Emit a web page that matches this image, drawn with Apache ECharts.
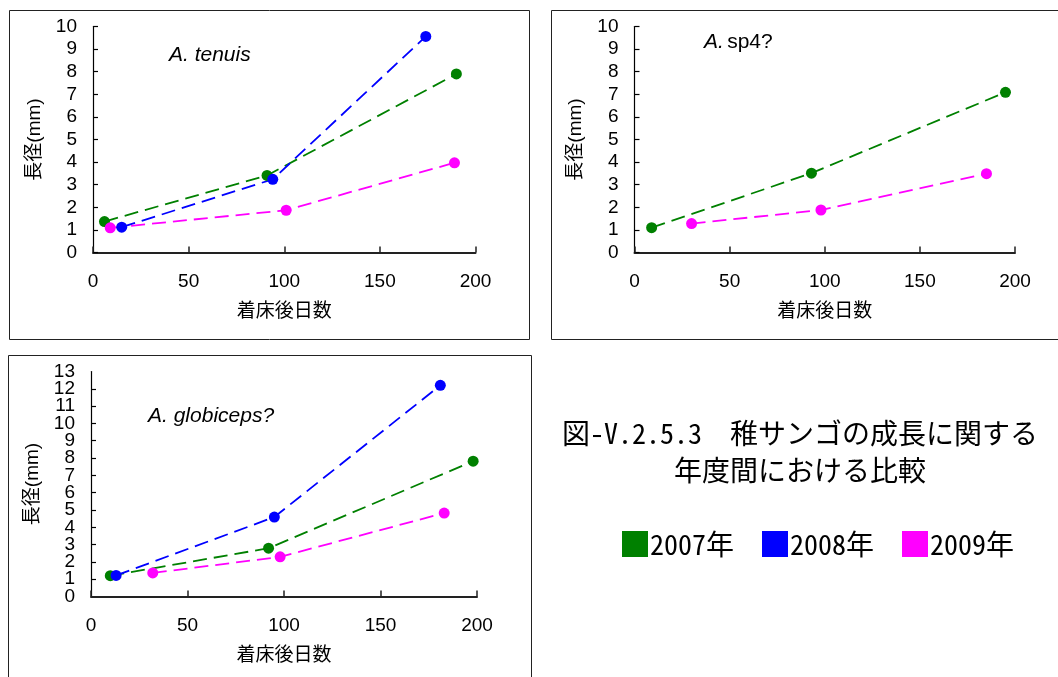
<!DOCTYPE html>
<html>
<head>
<meta charset="utf-8">
<script src="https://cdn.jsdelivr.net/npm/echarts@6/dist/echarts.min.js"></script>
<style>
html,body{margin:0;padding:0;background:#fff;}
#chart{width:1058px;height:677px;}
</style>
</head>
<body>
<div id="chart"></div>
<script>
// ---- Data ----
const yearNames = ['2007年', '2008年', '2009年'];
const yearColors = ['#008000', '#0000ff', '#ff00ff'];
const speciesLabels = ['A. tenuis', 'A. sp4?', 'A. globiceps?'];
const xTicks = [0, 50, 100, 150, 200];
const xAxisTitle = '着床後日数';
const yAxisTitle = '長径(mm)';
const yMaxs = [10, 10, 13];
const titleLine1 = '図-V.2.5.3　稚サンゴの成長に関する';
const titleLine2 = '年度間における比較';

// A. tenuis
const tenuis2007Days = [6, 91, 190];
const tenuis2007Size = [1.37, 3.41, 7.9];
const tenuis2008Days = [15, 94, 174];
const tenuis2008Size = [1.12, 3.24, 9.56];
const tenuis2009Days = [9, 101, 189];
const tenuis2009Size = [1.09, 1.87, 3.97];
// A. sp4?
const sp4_2007Days = [9, 93, 195];
const sp4_2007Size = [1.1, 3.51, 7.09];
const sp4_2009Days = [30, 98, 185];
const sp4_2009Size = [1.28, 1.88, 3.49];
// A. globiceps?
const glob2007Days = [10, 92, 198];
const glob2007Size = [1.2, 2.79, 7.82];
const glob2008Days = [13, 95, 181];
const glob2008Size = [1.22, 4.59, 12.2];
const glob2009Days = [32, 98, 183];
const glob2009Size = [1.36, 2.29, 4.82];

const zip = (a, b) => a.map((v, i) => [v, b[i]]);

const panels = [
  [[0, tenuis2007Days, tenuis2007Size], [1, tenuis2008Days, tenuis2008Size], [2, tenuis2009Days, tenuis2009Size]],
  [[0, sp4_2007Days, sp4_2007Size], [2, sp4_2009Days, sp4_2009Size]],
  [[0, glob2007Days, glob2007Size], [1, glob2008Days, glob2008Size], [2, glob2009Days, glob2009Size]]
];

// ---- Layout ----
const grids = [
  {left: 93, top: 26.5, width: 382.5, height: 226},
  {left: 634.5, top: 26.5, width: 380.5, height: 226},
  {left: 91, top: 371.5, width: 386, height: 225}
];
const boxes = [
  {x: 9.5, y: 10.5, width: 520, height: 329},
  {x: 551.5, y: 10.5, width: 520, height: 329},
  {x: 8.5, y: 355.5, width: 523, height: 340}
];
const labelPos = [[169, 57], [704, 44], [148, 418]];

const numFont = "'Liberation Sans', Arial, sans-serif";
const jpFont = "'Liberation Sans', 'Noto Sans CJK JP', sans-serif";
const monoJp = "'Noto Sans Mono CJK JP', 'Noto Sans CJK JP', sans-serif";

const xAxes = grids.map((g, i) => ({
  type: 'value', gridIndex: i, min: 0, max: 200, interval: 50,
  axisLine: {show: true, onZero: false, lineStyle: {color: '#222', width: 2}},
  axisTick: {show: true, inside: true, length: 6, lineStyle: {color: '#222', width: 1.5}},
  axisLabel: {color: '#000', fontSize: 19, fontFamily: numFont, margin: 20,
    showMinLabel: true, showMaxLabel: true,
    formatter: v => xTicks.includes(v) ? String(v) : ''},
  splitLine: {show: false},
  name: xAxisTitle, nameLocation: 'middle', nameGap: 50,
  nameTextStyle: {color: '#000', fontSize: 19, fontFamily: jpFont}
}));
const yAxes = grids.map((g, i) => ({
  type: 'value', gridIndex: i, min: 0, max: yMaxs[i], interval: 1,
  axisLine: {show: true, onZero: false, lineStyle: {color: '#000', width: 1.2}},
  axisTick: {show: true, inside: true, length: 5, lineStyle: {color: '#000', width: 1.2}},
  axisLabel: {color: '#000', fontSize: 19, fontFamily: numFont, margin: 16,
    showMinLabel: i === 2 ? false : true, showMaxLabel: i === 2 ? false : true},
  splitLine: {show: false},
  name: yAxisTitle, nameLocation: 'middle', nameGap: 49, nameRotate: 90,
  nameTextStyle: {color: '#000', fontSize: 19, fontFamily: jpFont}
}));
// companion axis for the third panel carrying only its end labels (0 and 13),
// so the crowded neighbour labels are not dropped by overlap handling
yAxes.push({
  type: 'value', gridIndex: 2, position: 'left', offset: 0, min: 0, max: yMaxs[2], interval: yMaxs[2],
  axisLine: {show: false}, axisTick: {show: false}, splitLine: {show: false},
  axisLabel: {color: '#000', fontSize: 19, fontFamily: numFont, margin: 16,
    showMinLabel: true, showMaxLabel: true}
});

const series = [];
panels.forEach((list, gi) => {
  list.forEach(([yi, days, sizes]) => {
    series.push({
      type: 'line', name: yearNames[yi], xAxisIndex: gi, yAxisIndex: gi,
      data: zip(days, sizes), symbol: 'circle', symbolSize: 11, showSymbol: true,
      color: yearColors[yi],
      itemStyle: {color: yearColors[yi]},
      lineStyle: {color: yearColors[yi], width: 1.8, type: [14, 7]},
      animation: false
    });
  });
});

const graphic = [];
boxes.forEach(b => graphic.push({
  type: 'rect', shape: b, silent: true, z: -1,
  style: {fill: 'none', stroke: '#222', lineWidth: 1}
}));
speciesLabels.forEach((t, i) => {
  if (i === 1) {
    graphic.push({type: 'text', left: labelPos[i][0], top: labelPos[i][1] - 12, silent: true,
      style: {text: '{a|A.} {b|sp4?}', rich: {
        a: {fontStyle: 'italic', fontSize: 21, fontFamily: numFont, fill: '#000'},
        b: {fontSize: 21, fontFamily: numFont, fill: '#000'}}}});
  } else {
    graphic.push({type: 'text', left: labelPos[i][0], top: labelPos[i][1] - 12, silent: true,
      style: {text: t, fontStyle: 'italic', fontSize: 21, fontFamily: numFont, fill: '#000'}});
  }
});
graphic.push({type: 'text', x: 800, y: 433, silent: true,
  style: {text: titleLine1, fontSize: 28, fontFamily: monoJp, fill: '#000', align: 'center', verticalAlign: 'middle'}});
graphic.push({type: 'text', x: 800, y: 470, silent: true,
  style: {text: titleLine2, fontSize: 28, fontFamily: monoJp, fill: '#000', align: 'center', verticalAlign: 'middle'}});

const option = {
  animation: false,
  backgroundColor: '#fff',
  grid: grids.map(g => Object.assign({containLabel: false}, g)),
  xAxis: xAxes,
  yAxis: yAxes,
  legend: {
    data: yearNames.map((n, i) => ({name: n, icon: 'rect', itemStyle: {color: yearColors[i]}})),
    left: 617, top: 525, itemWidth: 26, itemHeight: 26, itemGap: 28,
    textStyle: {fontSize: 28, fontFamily: monoJp, color: '#000', padding: [0, 0, 0, -3]},
    selectedMode: false
  },
  series: series,
  graphic: graphic
};

const chart = echarts.init(document.getElementById('chart'), null, {renderer: 'canvas'});
chart.setOption(option);
</script>
</body>
</html>
